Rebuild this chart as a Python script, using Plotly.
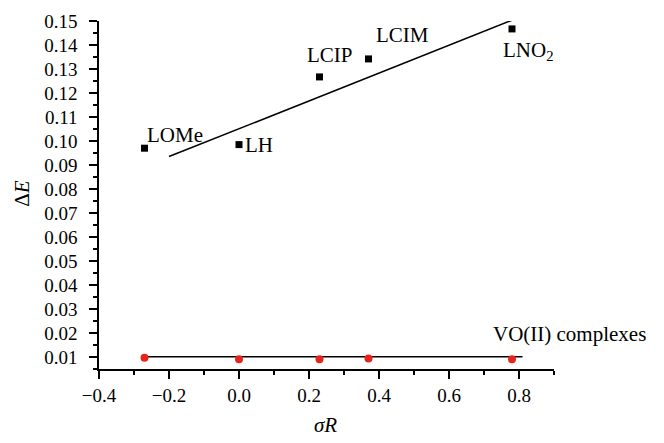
import plotly.graph_objects as go

# ligandos (cuadrados negros)
sigma_l = [-0.27, 0.0, 0.23, 0.37, 0.78]
dE_l = [0.097, 0.0985, 0.1267, 0.1342, 0.1467]
nombres = ['LOMe', 'LH', 'LCIP', 'LCIM', 'LNO<sub>2</sub>']

# recta de ajuste de los ligandos
fit_x = [-0.2, 0.8]
fit_y = [0.0935, 0.1515]

# complejos VO(II) (puntos rojos)
sigma_c = [-0.27, 0.0, 0.23, 0.37, 0.78]
dE_c = [0.0097, 0.0091, 0.0091, 0.0094, 0.0091]
fit_c_x = [-0.27, 0.81]
fit_c_y = [0.0101, 0.0101]

fuente = 'Liberation Serif'
tam = 21

fig = go.Figure()
fig.add_trace(go.Scatter(x=fit_x, y=fit_y, mode='lines',
                         line=dict(color='black', width=1.6)))
fig.add_trace(go.Scatter(x=fit_c_x, y=fit_c_y, mode='lines',
                         line=dict(color='black', width=1.4)))
fig.add_trace(go.Scatter(x=sigma_l, y=dE_l, mode='markers',
                         marker=dict(symbol='square', size=7, color='black')))
fig.add_trace(go.Scatter(x=sigma_c, y=dE_c, mode='markers',
                         marker=dict(symbol='circle', size=8, color='#e8231b')))

# etiquetas de los puntos: (desplazamiento x, desplazamiento y hacia arriba, anclaje x)
posiciones = [(0, 13, 'left'), (4, 0, 'left'), (10, 22, 'center'),
              (5, 24, 'left'), (-11, -22, 'left')]
for x, y, t, (dx, dy, xa) in zip(sigma_l, dE_l, nombres, posiciones):
    fig.add_annotation(x=x, y=y, text=t, showarrow=False, xshift=dx, yshift=dy,
                       xanchor=xa, yanchor='middle', font=dict(family=fuente, size=tam, color='black'))
fig.add_annotation(x=sigma_c[-1], y=fit_c_y[-1], text='VO(II) complexes', showarrow=False,
                   xanchor='left', yanchor='middle', xshift=-21, yshift=23,
                   font=dict(family=fuente, size=tam, color='black'))

# titulos de los ejes
fig.add_annotation(xref='paper', yref='paper', x=-0.168, y=0.505, text='Δ<i>E</i>',
                   textangle=-90, showarrow=False, xanchor='center', yanchor='middle',
                   font=dict(family=fuente, size=tam, color='black'))
fig.add_annotation(xref='paper', yref='paper', x=0.497, y=-0.16, text='<i>σR</i>',
                   showarrow=False, xanchor='center', yanchor='middle',
                   font=dict(family=fuente, size=tam, color='black'))

# el body de la pagina tiene 8 px de margen, se descuentan aqui
fig.update_layout(width=664, height=443, showlegend=False,
                  plot_bgcolor='white', paper_bgcolor='white',
                  margin=dict(l=91, r=118, t=13, b=82),
                  font=dict(family=fuente, size=19, color='black'))
fig.update_xaxes(range=[-0.4, 0.9], tick0=-0.4, dtick=0.2, tickformat='.1f', automargin=False,
                 showgrid=False, zeroline=False, showline=True, linecolor='black', linewidth=1.5,
                 ticks='outside', ticklen=8, tickwidth=1.5, tickcolor='black',
                 minor=dict(dtick=0.1, tick0=-0.4, ticks='outside', ticklen=4, tickwidth=1.5,
                            tickcolor='black', showgrid=False))
fig.update_yaxes(range=[0.005, 0.15], tick0=0, dtick=0.01, tickformat='.2f', automargin=False,
                 showgrid=False, zeroline=False, showline=True, linecolor='black', linewidth=1.5,
                 ticks='outside', ticklen=8, tickwidth=1.5, tickcolor='black', ticklabelstandoff=8,
                 minor=dict(dtick=0.005, tick0=0, ticks='outside', ticklen=4, tickwidth=1.5,
                            tickcolor='black', showgrid=False))

for tr in fig.data:
    tr.cliponaxis = False

fig.write_html("out.html")
